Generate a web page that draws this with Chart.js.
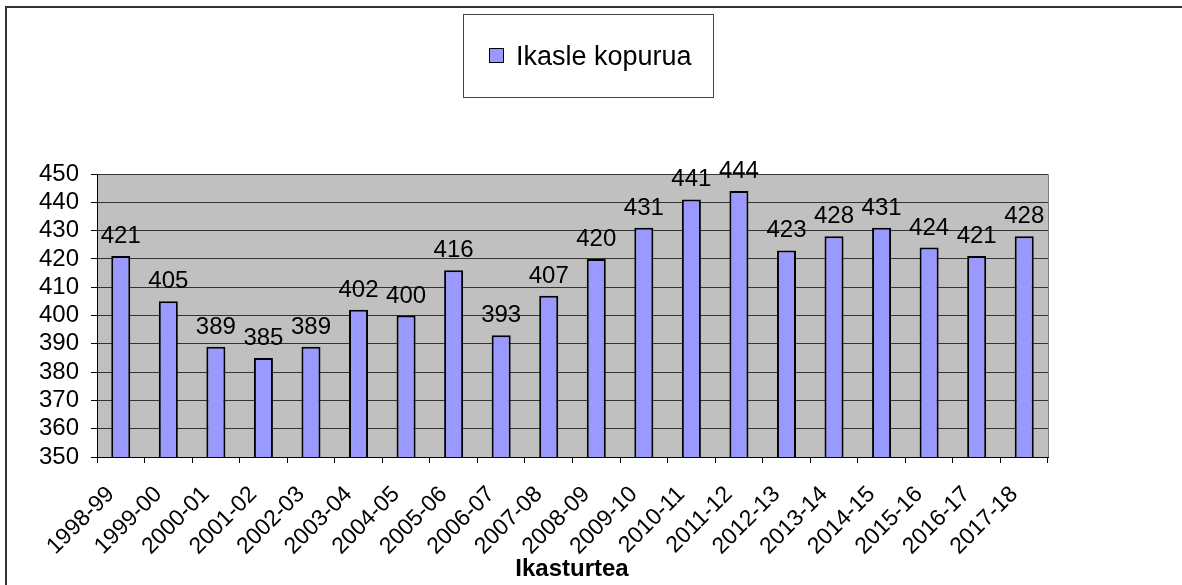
<!DOCTYPE html>
<html>
<head>
<meta charset="utf-8">
<script src="https://cdn.jsdelivr.net/npm/chart.js@4"></script>
<style>
  html, body { margin: 0; padding: 0; background: #fff; }
  #wrap { position: relative; width: 1182px; height: 585px; }
</style>
</head>
<body>
<div id="wrap"><canvas id="chart" width="1182" height="585"></canvas></div>
<script>
const labels = ['1998-99', '1999-00', '2000-01', '2001-02', '2002-03', '2003-04', '2004-05',
  '2005-06', '2006-07', '2007-08', '2008-09', '2009-10', '2010-11', '2011-12', '2012-13',
  '2013-14', '2014-15', '2015-16', '2016-17', '2017-18'];
const ikasleKopurua = [421, 405, 389, 385, 389, 402, 400, 416, 393, 407, 420, 431, 441, 444,
  423, 428, 431, 424, 421, 428];
const yTicks = [350, 360, 370, 380, 390, 400, 410, 420, 430, 440, 450];

const FONT = 'Liberation Sans, Arial, sans-serif';

// grey plot area, frame, legend box, axis title and value labels
const decor = {
  id: 'decor',
  beforeDraw(chart) {
    const { ctx, chartArea: a } = chart;
    ctx.save();
    ctx.fillStyle = '#fff';
    ctx.fillRect(0, 0, chart.width, chart.height);
    ctx.fillStyle = '#c0c0c0';
    ctx.fillRect(a.left, a.top, a.right - a.left, a.bottom - a.top);
    ctx.strokeStyle = '#808080';
    ctx.lineWidth = 1;
    ctx.beginPath();
    ctx.moveTo(a.left, a.top + 0.5);
    ctx.lineTo(a.right + 0.5, a.top + 0.5);
    ctx.lineTo(a.right + 0.5, a.bottom);
    ctx.stroke();
    ctx.restore();
  },
  afterDraw(chart) {
    const { ctx } = chart;
    ctx.save();
    // outer frame
    ctx.strokeStyle = '#333';
    ctx.lineWidth = 2;
    ctx.beginPath();
    ctx.moveTo(6, 600);
    ctx.lineTo(6, 7);
    ctx.lineTo(1200, 7);
    ctx.stroke();

    // legend
    ctx.lineWidth = 1;
    ctx.strokeStyle = '#444';
    ctx.strokeRect(463.5, 14.5, 250, 83);
    ctx.fillStyle = '#9999ff';
    ctx.fillRect(489.5, 48.5, 14, 14);
    ctx.strokeStyle = '#000';
    ctx.strokeRect(489.5, 48.5, 14, 14);
    ctx.fillStyle = '#000';
    ctx.font = '27px ' + FONT;
    ctx.textAlign = 'left';
    ctx.textBaseline = 'alphabetic';
    ctx.fillText('Ikasle kopurua', 516, 65);

    // x axis title
    ctx.font = 'bold 24px ' + FONT;
    ctx.textAlign = 'center';
    ctx.fillText('Ikasturtea', 572, 576);

    // value labels
    ctx.font = '24px ' + FONT;
    const meta = chart.getDatasetMeta(0);
    meta.data.forEach((bar, i) => {
      ctx.fillText(String(ikasleKopurua[i]), bar.x, bar.y - 13);
    });
    ctx.restore();
  }
};

new Chart(document.getElementById('chart'), {
  type: 'bar',
  data: {
    labels: labels,
    datasets: [{
      label: 'Ikasle kopurua',
      data: ikasleKopurua,
      backgroundColor: '#9999ff',
      borderColor: '#000',
      borderWidth: 2,
      borderSkipped: false,
      barPercentage: 0.8,
      categoryPercentage: 0.5
    }]
  },
  options: {
    responsive: false,
    animation: false,
    layout: { padding: { top: 174, right: 134, left: 0, bottom: 0 } },
    plugins: {
      legend: { display: false },
      tooltip: { enabled: false }
    },
    scales: {
      x: {
        afterFit(scale) { scale.height = 128; },
        grid: {
          offset: true,
          drawOnChartArea: false,
          color: '#000',
          tickLength: 6,
          tickColor: '#000'
        },
        border: { color: '#000', width: 1 },
        ticks: {
          color: '#000',
          font: { family: FONT, size: 23 },
          minRotation: 45,
          maxRotation: 45,
          autoSkip: false,
          labelOffset: -10,
          padding: 18
        }
      },
      y: {
        min: 350,
        max: 450,
        afterFit(scale) { scale.width = 97; },
        afterBuildTicks(scale) { scale.ticks = yTicks.map(v => ({ value: v })); },
        grid: {
          color: '#333',
          tickLength: 6,
          tickColor: '#000'
        },
        border: { color: '#000', width: 1 },
        ticks: {
          color: '#000',
          font: { family: FONT, size: 24 },
          autoSkip: false,
          padding: 12
        }
      }
    }
  },
  plugins: [decor]
});
</script>
</body>
</html>
